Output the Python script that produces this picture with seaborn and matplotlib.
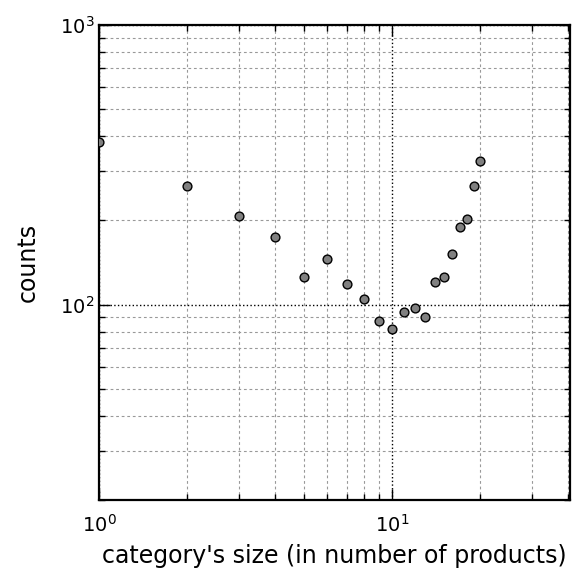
import matplotlib
matplotlib.use("Agg")
import matplotlib.pyplot as plt
import seaborn as sns
import pandas as pd
from matplotlib.ticker import LogLocator, NullFormatter

sizes = [1, 2, 3, 4, 5, 6, 7, 8, 9, 10, 11, 12, 13, 14, 15, 16, 17, 18, 19, 20]
counts = [382, 265, 207, 174, 125, 145, 118, 105, 87, 82, 94, 97, 90, 120, 125, 152, 189, 202, 266, 327]

df = pd.DataFrame({"size": sizes, "counts": counts})

plt.rcParams['font.family'] = ['DejaVu Sans']
fig = plt.figure(figsize=(5.73, 5.72), dpi=100)
ax = fig.add_axes([99/573, 72/572, (570-99)/573, (500-25)/572])

sns.scatterplot(data=df, x="size", y="counts", ax=ax, color="#808080",
                edgecolor="black", linewidth=1.0, s=40, zorder=3)

ax.set_xscale("log")
ax.set_yscale("log")
ax.set_xlim(1, 40.5)
ax.set_ylim(20, 1000)

ax.xaxis.set_minor_locator(LogLocator(base=10, subs=range(2, 10)))
ax.yaxis.set_minor_locator(LogLocator(base=10, subs=range(2, 10)))
ax.xaxis.set_minor_formatter(NullFormatter())
ax.yaxis.set_minor_formatter(NullFormatter())

ax.grid(which="major", color="black", linestyle=":", linewidth=1.0)
ax.grid(which="minor", color="#999999", linestyle="--", linewidth=0.8, dashes=(2.5, 2.5))
ax.set_axisbelow(True)

for sp in ax.spines.values():
    sp.set_linewidth(1.6)

ax.tick_params(which="both", direction="in", top=True, right=True, labelsize=14)
ax.tick_params(which="major", length=8, width=1)
ax.tick_params(which="minor", length=4, width=1)
ax.tick_params(axis="x", pad=10)

ax.set_xlabel("category's size (in number of products)", fontsize=17, labelpad=6)
ax.set_ylabel("counts", fontsize=17, labelpad=14)

fig.savefig("out.png", dpi=100)
